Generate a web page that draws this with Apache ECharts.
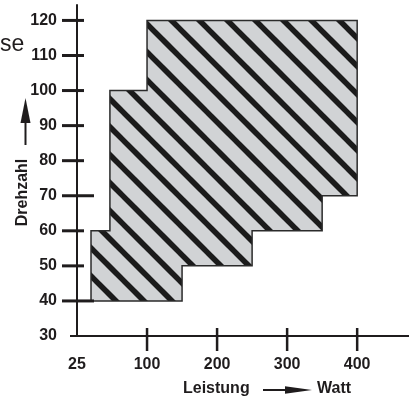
<!DOCTYPE html>
<html>
<head>
<meta charset="utf-8">
<script src="https://cdn.jsdelivr.net/npm/echarts@6/dist/echarts.min.js"></script>
<style>
  html, body { margin: 0; padding: 0; background: #fff; }
  #chart { width: 409px; height: 401px; }
</style>
</head>
<body>
<div id="chart"></div>
<script>
// Leistung (Watt) gegen Drehzahl
const xTickValues = [0, 100, 200, 300, 400];
const xTickLabels = ['25', '100', '200', '300', '400'];
const yTickValues = [30, 40, 50, 60, 70, 80, 90, 100, 110, 120];
// Umriss des schraffierten Bereichs
const areaX = [20, 20, 47, 47, 100, 100, 400, 400, 350, 350, 250, 250, 150, 150];
const areaY = [40, 60, 60, 100, 100, 120, 120, 70, 70, 60, 60, 50, 50, 40];

const ink = '#1f1c1d';
const labelFont = '"Liberation Sans Narrow", "Arial Narrow", "Liberation Sans", Arial, sans-serif';
const nameFont = '"Liberation Sans", Arial, sans-serif';

// Schraffur: grau mit schwarzen Diagonalen
const hatch = document.createElement('canvas');
hatch.width = 28;
hatch.height = 28;
const hc = hatch.getContext('2d');
hc.fillStyle = '#d1d3d5';
hc.fillRect(0, 0, 28, 28);
hc.strokeStyle = '#1b1b1b';
hc.lineWidth = 5.5;
[-17, 11, 39].forEach(function (c) {
  hc.beginPath();
  hc.moveTo(c - 10, -10);
  hc.lineTo(c + 38, 38);
  hc.stroke();
});

const myChart = echarts.init(document.getElementById('chart'));

let option = {
  animation: false,
  grid: { left: 77, right: 0, top: 5, bottom: 65, outerBoundsMode: 'none' },
  xAxis: {
    type: 'value',
    min: 0,
    max: 474,
    interval: 100,
    axisLine: { lineStyle: { color: ink, width: 2 } },
    axisTick: { show: false },
    splitLine: { show: false },
    axisLabel: {
      margin: 21,
      showMaxLabel: false,
      color: ink,
      fontWeight: 'bold',
      fontSize: 16,
      fontFamily: labelFont,
      formatter: function (v) {
        const i = xTickValues.indexOf(v);
        return i >= 0 ? xTickLabels[i] : '';
      }
    }
  },
  yAxis: {
    type: 'value',
    min: 30,
    max: 124.4,
    interval: 10,
    axisLine: { lineStyle: { color: ink, width: 2 } },
    axisTick: { show: false },
    splitLine: { show: false },
    axisLabel: {
      margin: 20,
      showMaxLabel: false,
      color: ink,
      fontWeight: 'bold',
      fontSize: 16,
      fontFamily: labelFont,
      formatter: function (v) {
        return yTickValues.indexOf(v) >= 0 ? String(v) : '';
      }
    }
  },
  graphic: [
    {
      type: 'text', left: 0, top: 33,
      style: { text: 'se', fontSize: 23, fontFamily: nameFont, fill: ink }
    },
    {
      type: 'text', x: 23, y: 192.5, rotation: Math.PI / 2,
      style: {
        text: 'Drehzahl', fontSize: 16, fontWeight: 'bold', fontFamily: nameFont,
        fill: ink, align: 'center', verticalAlign: 'middle'
      }
    },
    {
      type: 'polyline',
      shape: { points: [[25.5, 145], [25.5, 120]] },
      style: { stroke: ink, lineWidth: 2 }
    },
    {
      type: 'polygon',
      shape: { points: [[25.5, 98], [30.5, 123], [20.5, 123]] },
      style: { fill: ink }
    },
    {
      type: 'text', x: 183, y: 389,
      style: {
        text: 'Leistung', fontSize: 16, fontWeight: 'bold', fontFamily: nameFont,
        fill: ink, align: 'left', verticalAlign: 'middle'
      }
    },
    {
      type: 'polyline',
      shape: { points: [[263, 390], [290, 390]] },
      style: { stroke: ink, lineWidth: 2 }
    },
    {
      type: 'polygon',
      shape: { points: [[312, 390], [285, 386.3], [285, 393.7]] },
      style: { fill: ink }
    },
    {
      type: 'text', x: 317, y: 389,
      style: {
        text: 'Watt', fontSize: 16, fontWeight: 'bold', fontFamily: nameFont,
        fill: ink, align: 'left', verticalAlign: 'middle'
      }
    }
  ],
  series: [
    {
      type: 'custom',
      name: 'Bereich',
      clip: false,
      data: areaX.map(function (x, i) { return [x, areaY[i]]; }),
      renderItem: function (params, api) {
        if (params.dataIndex !== 0) return null;
        const pts = areaX.map(function (x, i) { return api.coord([x, areaY[i]]); });
        return {
          type: 'polygon',
          shape: { points: pts },
          style: { fill: { image: hatch, repeat: 'repeat' }, stroke: '#2b2b2b', lineWidth: 1.5 }
        };
      },
      z: 2
    },
    {
      type: 'custom',
      name: 'yTicks',
      clip: false,
      data: yTickValues.map(function (v) { return [0, v]; }),
      renderItem: function (params, api) {
        const v = api.value(1);
        const p = api.coord([0, v]);
        let out = 15, inn = 7, w = 3;
        if (v === 30) { out = 7; inn = 0; w = 2; }
        if (v === 40 || v === 70) inn = 17;
        return {
          type: 'line',
          shape: { x1: p[0] - out, y1: p[1], x2: p[0] + inn, y2: p[1] },
          style: { stroke: ink, lineWidth: w }
        };
      },
      z: 5
    },
    {
      type: 'custom',
      name: 'xTicks',
      clip: false,
      data: xTickValues.slice(1).map(function (v) { return [v, 30]; }),
      renderItem: function (params, api) {
        const p = api.coord([api.value(0), 30]);
        return {
          type: 'line',
          shape: { x1: p[0], y1: p[1] - 8, x2: p[0], y2: p[1] + 15 },
          style: { stroke: ink, lineWidth: 2.5 }
        };
      },
      z: 5
    }
  ]
};
myChart.setOption(option);
</script>
</body>
</html>
